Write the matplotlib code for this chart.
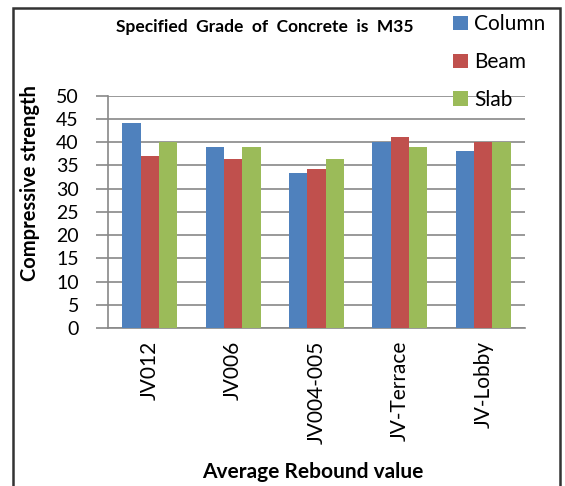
import matplotlib
matplotlib.use("Agg")
import matplotlib.pyplot as plt
import numpy as np
from matplotlib.patches import Rectangle

categories = ["JV012", "JV006", "JV004-005", "JV-Terrace", "JV-Lobby"]
column = [44.1, 38.9, 33.3, 40.1, 38.1]
beam = [37.1, 36.4, 34.2, 41.1, 40.0]
slab = [40.0, 38.9, 36.4, 38.9, 40.0]
series_names = ["Column", "Beam", "Slab"]
yticks = list(range(0, 55, 5))

colors = ["#4F81BD", "#C0504D", "#9BBB59"]
plt.rcParams['font.family'] = ['Lato', 'DejaVu Sans']

W, H = 565, 486
fig = plt.figure(figsize=(W / 100, H / 100), dpi=100)
ax = fig.add_axes([108 / W, 1 - 328 / H, (525 - 108) / W, (328 - 95.7) / H])

x = np.arange(len(categories))
bw = 0.22
for i, (vals, name) in enumerate(zip([column, beam, slab], series_names)):
    ax.bar(x + (i - 1) * bw, vals, width=bw, color=colors[i], label=name, zorder=3)

ax.set_xlim(-0.5, len(categories) - 0.5)
ax.set_ylim(0, 50)
ax.set_yticks(yticks)
ax.set_xticks(x)
ax.set_xticklabels(categories, rotation=90, fontsize=15)
ax.tick_params(axis='y', labelsize=14, length=9, color='#888888', width=1.2, pad=12)
ax.tick_params(axis='x', length=0, pad=9)
ax.yaxis.grid(True, color='#888888', linewidth=1.2, zorder=0)
ax.set_axisbelow(True)
for s in ['top', 'right']:
    ax.spines[s].set_visible(False)
for s in ['left', 'bottom']:
    ax.spines[s].set_color('#888888')
    ax.spines[s].set_linewidth(1.2)

fig.text(30 / W, 1 - 183 / H, "Compressive strength", rotation=90, ha='center', va='center',
         fontsize=14.5, fontweight='bold')
fig.text(313 / W, 1 - 472 / H, "Average Rebound value", ha='center', va='center',
         fontsize=15, fontweight='bold')

fig.text(265 / W, 1 - 27 / H, "Specified  Grade  of  Concrete  is  M35", ha='center', va='center',
         fontsize=12.5, fontweight='bold')

handles, labels = ax.get_legend_handles_labels()
leg = fig.legend(handles, labels, loc='upper left', bbox_to_anchor=(443 / W, 1 - 4 / H),
                 frameon=False, fontsize=15, handlelength=0.7, handleheight=0.7,
                 handletextpad=0.3, labelspacing=0.85, borderpad=0)

fig.patches.append(Rectangle((13 / W, -0.05), (560 - 13) / W, 1 - 8 / H + 0.05,
                             transform=fig.transFigure, fill=False, edgecolor='#333333',
                             linewidth=1.8, zorder=10))

fig.savefig("out.png", dpi=100, facecolor='white')
